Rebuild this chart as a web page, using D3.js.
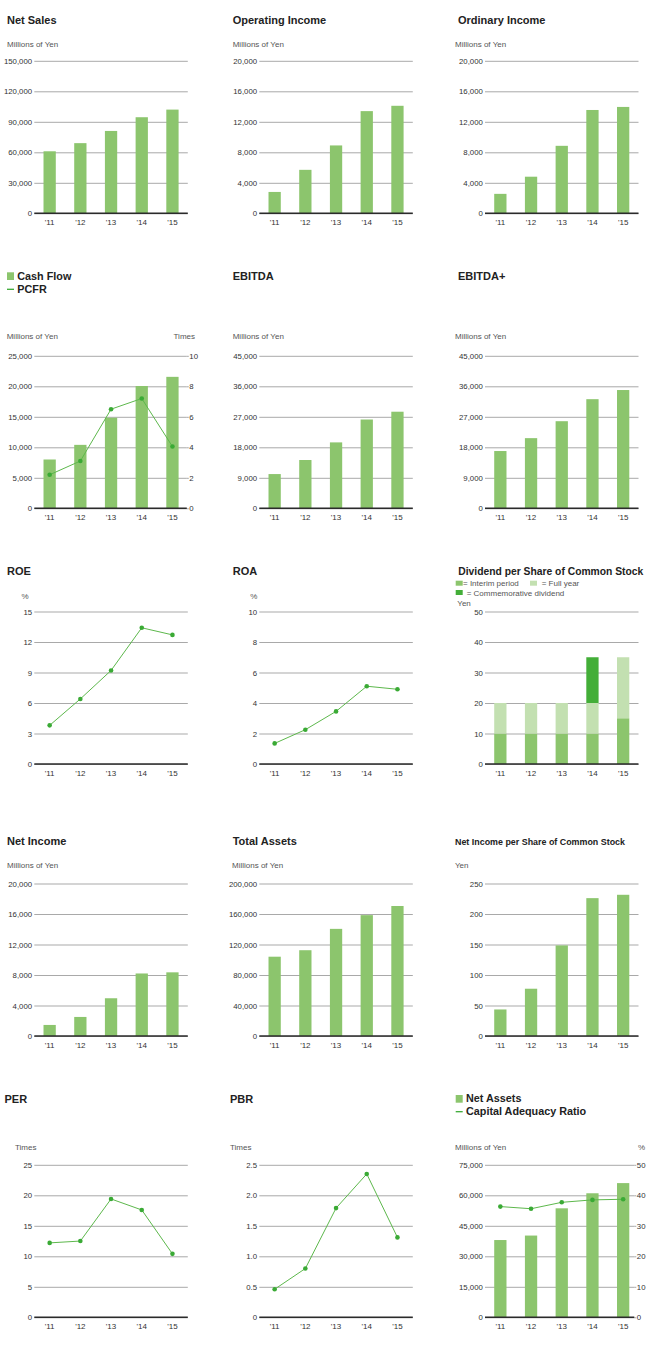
<!DOCTYPE html>
<html>
<head>
<meta charset="utf-8">
<script src="https://cdn.jsdelivr.net/npm/d3@7"></script>
<style>
  html, body { margin: 0; padding: 0; background: #fff; }
  svg { display: block; }
  text { font-family: "Liberation Sans", Arial, Helvetica, sans-serif; }
</style>
</head>
<body>
<script>
// ---------------- DATA ----------------
const years = ["'11", "'12", "'13", "'14", "'15"];

const netSales        = [61000, 69000, 81000, 94500, 102000];
const operatingIncome = [2800, 5700, 8900, 13400, 14100];
const ordinaryIncome  = [2550, 4800, 8850, 13550, 13950];
const cashFlow        = [8000, 10400, 14850, 20050, 21550];
const pcfr            = [2.2, 3.1, 6.5, 7.2, 4.05];
const ebitda          = [10100, 14250, 19450, 26200, 28500];
const ebitdaPlus      = [16900, 20700, 25700, 32200, 34900];
const roe             = [3.8, 6.4, 9.2, 13.4, 12.7];
const roa             = [1.35, 2.25, 3.45, 5.1, 4.9];
const dividendInterim       = [10, 10, 10, 10, 15];
const dividendFullYear      = [10, 10, 10, 10, 20];
const dividendCommemorative = [0, 0, 0, 15, 0];
const netIncome         = [1450, 2500, 4950, 8200, 8350];
const totalAssets       = [104000, 112500, 140500, 158500, 170500];
const netIncomePerShare = [43.5, 77.5, 148.5, 226, 231.5];
const per               = [12.2, 12.5, 19.4, 17.6, 10.4];
const pbr               = [0.46, 0.80, 1.79, 2.35, 1.31];
const netAssets         = [38000, 40200, 53600, 61000, 66000];
const capitalAdequacy   = [36.3, 35.6, 37.7, 38.5, 38.7];

// tick values
const netSalesTicks   = [0, 30000, 60000, 90000, 120000, 150000];
const incomeTicks     = [0, 4000, 8000, 12000, 16000, 20000];
const cashFlowTicks   = [0, 5000, 10000, 15000, 20000, 25000];
const pcfrTicks       = [0, 2, 4, 6, 8, 10];
const ebitdaTicks     = [0, 9000, 18000, 27000, 36000, 45000];
const roeTicks        = [0, 3, 6, 9, 12, 15];
const roaTicks        = [0, 2, 4, 6, 8, 10];
const dividendTicks   = [0, 10, 20, 30, 40, 50];
const totalAssetTicks = [0, 40000, 80000, 120000, 160000, 200000];
const perShareTicks   = [0, 50, 100, 150, 200, 250];
const perTicks        = [0, 5, 10, 15, 20, 25];
const pbrTicks        = [0, 0.5, 1.0, 1.5, 2.0, 2.5];
const netAssetTicks   = [0, 15000, 30000, 45000, 60000, 75000];
const carTicks        = [0, 10, 20, 30, 40, 50];

// ---------------- STYLE ----------------
const barColor   = "#8cc56d";
const lineColor  = "#5db84c";
const dotColor   = "#3aaa35";
const fullColor  = "#c3e0b1";
const commColor  = "#43ae38";
const gridColor  = "#a9a9a9";
const textColor  = "#333";
const unitColor  = "#555";

const colLeft = [34.3, 259.3, 485];
const plotW = 153.5;
const rowBase = [213.3, 508.3, 764, 1036, 1317.3];
const plotH = 152.5;

const fmtComma = d3.format(",");
const fmtPbr = d => d === 0 ? "0" : d3.format(".1f")(d);

const svg = d3.select("body").append("svg")
  .attr("width", 650).attr("height", 1360);

function title(x, y, txt, opts = {}) {
  const t = svg.append("text").attr("x", x).attr("y", y).text(txt)
    .attr("font-size", opts.size || 11).attr("font-weight", "bold").attr("fill", "#222");
  if (opts.len) t.attr("textLength", opts.len).attr("lengthAdjust", "spacingAndGlyphs");
}
function unit(x, y, txt, anchor = "start") {
  svg.append("text").attr("x", x).attr("y", y).text(txt)
    .attr("font-size", 8).attr("fill", unitColor).attr("text-anchor", anchor);
}

function panel(cfg) {
  const left = colLeft[cfg.col];
  const right = left + plotW;
  const gridRight = cfg.gridRight != null ? left + cfg.gridRight : right;
  const base = rowBase[cfg.row];
  const top = base - plotH;
  const g = svg.append("g");

  const y = d3.scaleLinear().domain([0, d3.max(cfg.ticks)]).range([base, top]);
  const x = d3.scaleBand().domain(years).range([left, right]).paddingInner(0.6).paddingOuter(0.3);

  // grid + left labels
  const ax = g.append("g").attr("transform", `translate(${left},0)`)
    .call(d3.axisLeft(y).tickValues(cfg.ticks).tickFormat(cfg.fmt || fmtComma)
      .tickSize(-(gridRight - left)).tickPadding(2.2));
  ax.select(".domain").remove();
  ax.selectAll(".tick line").attr("stroke", gridColor).attr("stroke-width", 1);
  ax.selectAll(".tick text").attr("fill", textColor).attr("font-size", 7.8)
    .attr("font-family", "'Liberation Sans', Arial, sans-serif");

  // right axis
  let y2 = null;
  if (cfg.rightTicks) {
    y2 = d3.scaleLinear().domain([0, d3.max(cfg.rightTicks)]).range([base, top]);
    const ar = g.append("g").attr("transform", `translate(${gridRight},0)`)
      .call(d3.axisRight(y2).tickValues(cfg.rightTicks).tickFormat(fmtComma).tickSize(2).tickPadding(0.5));
    ar.select(".domain").remove();
    ar.selectAll(".tick line").attr("stroke", gridColor);
    ar.selectAll(".tick text").attr("fill", textColor).attr("font-size", 7.8)
      .attr("font-family", "'Liberation Sans', Arial, sans-serif");
  }

  // bars
  if (cfg.bars) {
    g.append("g").selectAll("rect").data(cfg.bars).join("rect")
      .attr("x", (d, i) => x(years[i])).attr("width", x.bandwidth())
      .attr("y", d => y(d)).attr("height", d => y(0) - y(d))
      .attr("fill", barColor);
  }
  // stacks
  if (cfg.stacks) {
    const keys = cfg.stacks.map((s, k) => "s" + k);
    const rows = years.map((yr, i) => {
      const o = { year: yr };
      cfg.stacks.forEach((s, k) => o["s" + k] = s.values[i]);
      return o;
    });
    const series = d3.stack().keys(keys)(rows);
    series.forEach((s, k) => {
      g.append("g").selectAll("rect").data(s).join("rect")
        .attr("x", d => x(d.data.year)).attr("width", x.bandwidth())
        .attr("y", d => y(d[1])).attr("height", d => y(d[0]) - y(d[1]))
        .attr("fill", cfg.stacks[k].color);
    });
  }

  // baseline
  g.append("line").attr("x1", left).attr("x2", gridRight)
    .attr("y1", y(0)).attr("y2", y(0)).attr("stroke", "#2b2b2b").attr("stroke-width", 1.6);

  // line
  if (cfg.line) {
    const ys = cfg.lineRight ? y2 : y;
    const cx = i => x(years[i]) + x.bandwidth() / 2;
    g.append("path").datum(cfg.line)
      .attr("d", d3.line().x((d, i) => cx(i)).y(d => ys(d)))
      .attr("fill", "none").attr("stroke", lineColor).attr("stroke-width", 1);
    g.append("g").selectAll("circle").data(cfg.line).join("circle")
      .attr("cx", (d, i) => cx(i)).attr("cy", d => ys(d)).attr("r", 2.3)
      .attr("fill", dotColor);
  }

  // x labels
  g.append("g").selectAll("text").data(years).join("text")
    .attr("x", d => x(d) + x.bandwidth() / 2).attr("y", base + 11.8)
    .attr("text-anchor", "middle").attr("font-size", 8).attr("fill", textColor)
    .text(d => d);
}

// ---------------- ROW 1 ----------------
title(7, 24.3, "Net Sales");
unit(7, 46.7, "Millions of Yen");
panel({ col: 0, row: 0, ticks: netSalesTicks, bars: netSales });

title(232.7, 24.3, "Operating Income");
unit(232.7, 46.7, "Millions of Yen");
panel({ col: 1, row: 0, ticks: incomeTicks, bars: operatingIncome });

title(458, 24.3, "Ordinary Income");
unit(455, 46.7, "Millions of Yen");
panel({ col: 2, row: 0, ticks: incomeTicks, bars: ordinaryIncome });

// ---------------- ROW 2 ----------------
svg.append("rect").attr("x", 7).attr("y", 272.3).attr("width", 7).attr("height", 7.7).attr("fill", barColor);
title(17.3, 280, "Cash Flow", { size: 10.8 });
svg.append("line").attr("x1", 7).attr("x2", 14).attr("y1", 289.3).attr("y2", 289.3)
  .attr("stroke", dotColor).attr("stroke-width", 1.3);
title(17.3, 292.7, "PCFR", { size: 10.8 });
unit(6.7, 339.3, "Millions of Yen");
unit(195, 339.3, "Times", "end");
panel({ col: 0, row: 1, ticks: cashFlowTicks, bars: cashFlow, rightTicks: pcfrTicks,
        line: pcfr, lineRight: true, gridRight: 152.5 });

title(232.7, 280, "EBITDA");
unit(232.7, 339.3, "Millions of Yen");
panel({ col: 1, row: 1, ticks: ebitdaTicks, bars: ebitda });

title(458, 280, "EBITDA+");
unit(455, 339.3, "Millions of Yen");
panel({ col: 2, row: 1, ticks: ebitdaTicks, bars: ebitdaPlus });

// ---------------- ROW 3 ----------------
title(7, 575, "ROE");
unit(28.5, 599, "%", "end");
panel({ col: 0, row: 2, ticks: roeTicks, line: roe });

title(232.7, 575, "ROA");
unit(257.3, 599, "%", "end");
panel({ col: 1, row: 2, ticks: roaTicks, line: roa });

title(458.3, 575, "Dividend per Share of Common Stock", { size: 10.3, len: 185 });
svg.append("rect").attr("x", 455.7).attr("y", 580.7).attr("width", 7).attr("height", 5).attr("fill", barColor);
unit(463, 586, "= Interim period");
svg.append("rect").attr("x", 530).attr("y", 580.7).attr("width", 7).attr("height", 5).attr("fill", fullColor);
unit(541.7, 586, "= Full year");
svg.append("rect").attr("x", 455.7).attr("y", 590).attr("width", 7).attr("height", 5).attr("fill", commColor);
unit(466.7, 595.5, "= Commemorative dividend");
unit(457.3, 605.5, "Yen");
panel({ col: 2, row: 2, ticks: dividendTicks, stacks: [
  { values: dividendInterim, color: barColor },
  { values: dividendFullYear, color: fullColor },
  { values: dividendCommemorative, color: commColor }
] });

// ---------------- ROW 4 ----------------
title(7, 845, "Net Income");
unit(7, 868.4, "Millions of Yen");
panel({ col: 0, row: 3, ticks: incomeTicks, bars: netIncome });

title(232.7, 845, "Total Assets");
unit(232, 868.4, "Millions of Yen");
panel({ col: 1, row: 3, ticks: totalAssetTicks, bars: totalAssets });

title(455, 845, "Net Income per Share of Common Stock", { size: 9.6, len: 170 });
unit(455, 868.4, "Yen");
panel({ col: 2, row: 3, ticks: perShareTicks, bars: netIncomePerShare });

// ---------------- ROW 5 ----------------
title(4.5, 1102.7, "PER");
unit(15, 1150, "Times");
panel({ col: 0, row: 4, ticks: perTicks, line: per });

title(230, 1102.7, "PBR");
unit(230, 1150, "Times");
panel({ col: 1, row: 4, ticks: pbrTicks, fmt: fmtPbr, line: pbr });

svg.append("rect").attr("x", 455.7).attr("y", 1095).attr("width", 7).attr("height", 7.7).attr("fill", barColor);
title(466, 1102.4, "Net Assets", { size: 10.8 });
svg.append("line").attr("x1", 455.7).attr("x2", 462.7).attr("y1", 1111.7).attr("y2", 1111.7)
  .attr("stroke", dotColor).attr("stroke-width", 1.3);
title(466, 1114.6, "Capital Adequacy Ratio", { size: 10.8 });
unit(455, 1150, "Millions of Yen");
unit(645, 1150, "%", "end");
panel({ col: 2, row: 4, ticks: netAssetTicks, bars: netAssets, rightTicks: carTicks,
        line: capitalAdequacy, lineRight: true, gridRight: 149.3 });
</script>
</body>
</html>
